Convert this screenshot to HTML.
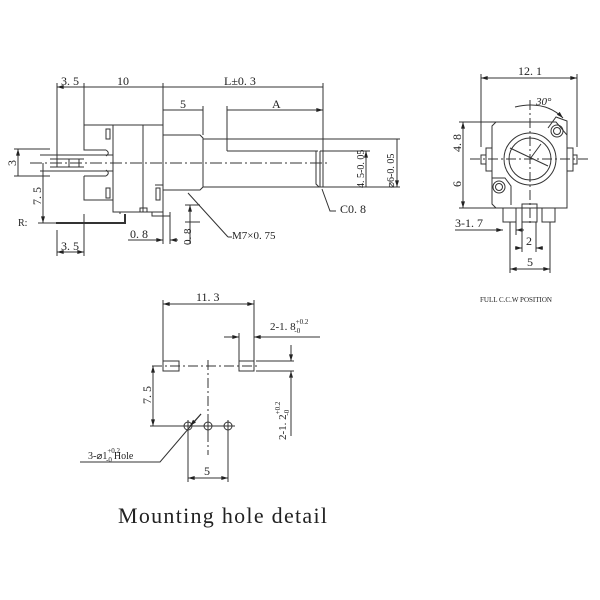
<!DOCTYPE html>
<html><head><meta charset="utf-8"><style>
html,body{margin:0;padding:0;background:#fff}
svg{display:block}
text{font-family:"Liberation Serif",serif;fill:#222}
</style></head><body>
<svg width="600" height="600" viewBox="0 0 600 600" xmlns="http://www.w3.org/2000/svg">
<defs>
<marker id="a" viewBox="0 0 10 6" refX="10" refY="3" markerWidth="7" markerHeight="4" orient="auto-start-reverse"><path d="M0,0L10,3L0,6z" fill="#222"/></marker>
</defs>
<g stroke="#333" stroke-width="1" fill="none">
<path d="M57,83V163M84,83V125M163,83V135M323,83V187M57,230V256M84,214V256M227,106V151"/>
<path d="M57,87H84M84,87H163M163,87H323M163,110H203M227,110H323" marker-start="url(#a)" marker-end="url(#a)"/>
<path d="M203,106V135"/>
<path d="M84,125H113V150M84,125V150H106M106,150c3,2,3,4,0,6M106,170c3,2,3,4,0,6M84,176H106V176M84,176V200H113"/>
<rect x="113" y="125" width="50" height="87"/>
<path d="M143,125V212"/>
<rect x="106" y="129" width="4" height="10"/><rect x="106" y="188" width="4" height="10"/>
<path d="M113,212H120V214M140,212V208H147V212H152V216H163V212"/>
<path d="M155,185H163V216H170V212"/>
<rect x="156" y="188" width="4" height="12"/>
<path d="M40,155H113M40,171H113M50,159H84M50,167H84M57,159V167M69,159V167M79,159V167"/>
<path d="M56,223H125V214" stroke-width="2"/>
<path d="M163,135H200L203,138V187L200,190H163"/>
<path d="M203,139H400M203,187H323M227,151H318M316,151V184L319,187H400M320,151V187"/>
<path d="M30,163H330" stroke-dasharray="12,3,2,3"/>
<path d="M18,149V176M43,163V223" marker-start="url(#a)" marker-end="url(#a)"/>
<path d="M14,149H50M14,176H50M38,223H56"/>
<path d="M366,151V187M397,139V187" marker-start="url(#a)" marker-end="url(#a)"/>
<path d="M320,151H370"/>
<path d="M57,252H84" marker-start="url(#a)" marker-end="url(#a)"/>
<path d="M128,240H163" marker-end="url(#a)"/><path d="M178,240H170" marker-end="url(#a)"/>
<path d="M163,216V244M170,216V244M190,207V244"/>
<path d="M190,217V205" marker-end="url(#a)"/><path d="M190,240V222" />
<path d="M185,205H200M185,222H200"/>
<path d="M228,237L188,193" /><path d="M228,237H232"/>
<path d="M336,211H330L322,189"/>
<path d="M481,74V147M577,74V147"/>
<path d="M481,78H577" marker-start="url(#a)" marker-end="url(#a)"/>
<path d="M496,122H556L567,135V208H496L492,204V126Z"/>
<circle cx="530" cy="159" r="26"/><circle cx="530" cy="159" r="21"/>
<path d="M510,148L548,166M530,159L541,144"/>
<circle cx="557" cy="131" r="6"/><circle cx="557" cy="131" r="3.5"/>
<path d="M548,128L556,117L567,121V135"/>
<circle cx="499" cy="187" r="6"/><circle cx="499" cy="187" r="3.5"/>
<path d="M492,178H505L511,186V205"/>
<rect x="486" y="148" width="6" height="23"/><rect x="481" y="155" width="5" height="9"/>
<rect x="567" y="148" width="6" height="23"/><rect x="573" y="155" width="4" height="9"/>
<rect x="503" y="208" width="13" height="14"/><rect x="522" y="204" width="15" height="18"/><rect x="542" y="208" width="13" height="14"/>
<path d="M470,159H590M530,100V225" stroke-dasharray="10,3,2,3"/>
<path d="M515,107Q545,100 563,118" marker-end="url(#a)"/>
<path d="M459,122H496M459,208H496"/>
<path d="M463,122V159M463,159V208" marker-start="url(#a)" marker-end="url(#a)"/>
<path d="M455,230H500" /><path d="M495,230H503" marker-end="url(#a)"/><path d="M524,230H516" marker-end="url(#a)"/>
<path d="M510,222V273M516,222V235M522,222V252M536,222V252M550,222V273"/>
<path d="M515,248H522" marker-end="url(#a)"/><path d="M543,248H536" marker-end="url(#a)"/>
<path d="M510,269H550" marker-start="url(#a)" marker-end="url(#a)"/>
<path d="M163,300V361M254,300V361"/>
<path d="M163,304H254" marker-start="url(#a)" marker-end="url(#a)"/>
<rect x="163" y="361" width="16" height="10"/><rect x="239" y="361" width="15" height="10"/>
<path d="M152,366H260M208,360V455" stroke-dasharray="10,3,2,3"/>
<path d="M256,361H294M256,371H294"/>
<path d="M224,337H239" marker-end="url(#a)"/><path d="M320,337H254" marker-end="url(#a)"/>
<path d="M239,333V361"/>
<path d="M291,345V361" marker-end="url(#a)"/><path d="M291,390V371" marker-end="url(#a)"/><path d="M291,371V436"/>
<path d="M153,366V426" marker-start="url(#a)" marker-end="url(#a)"/>
<path d="M150,426H235"/>
<circle cx="188" cy="426" r="4"/><circle cx="208" cy="426" r="4"/><circle cx="228" cy="426" r="4"/>
<path d="M188,420V432M182,426H194M228,420V432M222,426H234M208,420V432M202,426H214"/>
<path d="M188,430V482M228,430V482"/>
<path d="M188,478H228" marker-start="url(#a)" marker-end="url(#a)"/>
<path d="M80,462H160L201,414"/>
<path d="M190,426L201,414" marker-start="url(#a)"/>
</g>
<g font-size="12">
<text x="61" y="85">3. 5</text>
<text x="117" y="85">10</text>
<text x="224" y="85">L±0. 3</text>
<text x="180" y="108">5</text>
<text x="272" y="108">A</text>
<text x="61" y="250">3. 5</text>
<text x="130" y="238">0. 8</text>
<text x="232" y="239" font-size="11">M7×0. 75</text>
<text x="340" y="213">C0. 8</text>
<text x="18" y="226" font-size="10">R:</text>
<text transform="translate(16,166) rotate(-90)">3</text>
<text transform="translate(41,205) rotate(-90)">7. 5</text>
<text transform="translate(364,188) rotate(-90)" font-size="10">4. 5-0. 05</text>
<text transform="translate(394,188) rotate(-90)" font-size="10">⌀6-0. 05</text>
<text transform="translate(191,245) rotate(-90)" font-size="11">0. 8</text>
<text x="518" y="75">12. 1</text>
<text x="536" y="105" font-style="italic" font-size="11">30°</text>
<text transform="translate(461,152) rotate(-90)">4. 8</text>
<text transform="translate(461,187) rotate(-90)">6</text>
<text x="455" y="227">3-1. 7</text>
<text x="526" y="245">2</text>
<text x="527" y="266">5</text>
<text x="480" y="302" font-size="7">FULL C.C.W POSITION</text>
<text x="196" y="301">11. 3</text>
<text x="270" y="330" font-size="11">2-1. 8<tspan dy="-6" font-size="7">+0.2</tspan><tspan dx="-14" dy="9" font-size="7">-0</tspan></text>
<text transform="translate(286,440) rotate(-90)" font-size="11">2-1. 2<tspan dy="-6" font-size="7">+0.2</tspan><tspan dx="-14" dy="9" font-size="7">-0</tspan></text>
<text transform="translate(151,404) rotate(-90)">7. 5</text>
<text x="88" y="459" font-size="10">3-⌀1<tspan dy="-6" font-size="7">+0.2</tspan><tspan dx="-14" dy="9" font-size="7">-0</tspan><tspan dy="-3" dx="2">Hole</tspan></text>
<text x="204" y="475">5</text>
</g>
<text x="118" y="523" font-size="22" textLength="209">Mounting hole detail</text>
</svg>
</body></html>
